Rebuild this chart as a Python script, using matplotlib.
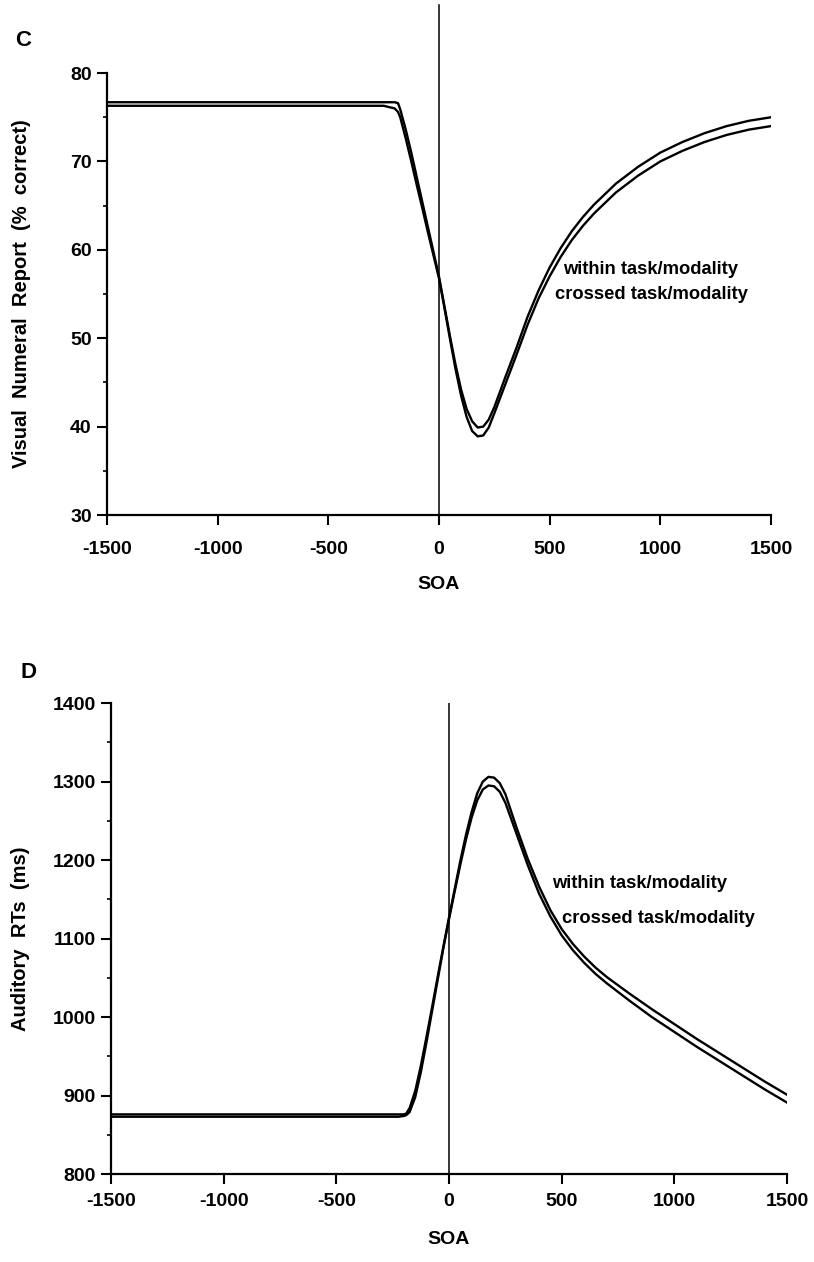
import numpy as np
import matplotlib
matplotlib.use("Agg")
from matplotlib import pyplot as plt
from matplotlib.ticker import MultipleLocator

plt.rcParams['font.family'] = ['Liberation Sans', 'DejaVu Sans']
plt.rcParams['font.weight'] = 'bold'

###############################################################################
# Panel C: visual numeral report (% correct) against SOA
#

soa_c = [-1500, -250, -200, -185, -175, -150, -125, -100, -75, -50, -25, 0,
         25, 50, 75, 100, 125, 150, 175, 200, 225, 250, 300, 350, 400, 450,
         500, 550, 600, 650, 700, 800, 900, 1000, 1100, 1200, 1300, 1400, 1500]

within_c = [76.7, 76.7, 76.7, 76.6, 75.9, 73.6, 71.0, 68.2, 65.4, 62.6, 59.8, 57.0,
            53.6, 50.2, 47.0, 44.2, 42.0, 40.6, 39.9, 40.0, 40.8, 42.2, 45.6, 48.9,
            52.4, 55.4, 58.0, 60.2, 62.1, 63.7, 65.1, 67.5, 69.4, 71.0, 72.2, 73.2,
            74.0, 74.6, 75.0]

crossed_c = [76.3, 76.3, 76.0, 75.6, 75.0, 72.6, 70.0, 67.3, 64.7, 62.0, 59.4, 56.8,
             53.4, 49.9, 46.5, 43.5, 41.1, 39.5, 38.9, 39.0, 39.9, 41.5, 44.8, 48.1,
             51.5, 54.5, 57.0, 59.2, 61.1, 62.7, 64.1, 66.5, 68.4, 70.0, 71.2, 72.2,
             73.0, 73.6, 74.0]

###############################################################################
# Panel D: auditory RTs (ms) against SOA
#

soa_d = [-1500, -250, -225, -200, -190, -175, -150, -125, -100, -75, -50, -25, 0,
         25, 50, 75, 100, 125, 150, 175, 200, 225, 250, 300, 350, 400, 450,
         500, 550, 600, 650, 700, 800, 900, 1000, 1100, 1200, 1300, 1400, 1500]

within_d = [876, 876, 876, 876, 877, 884, 906, 938, 975, 1013, 1052, 1090, 1127,
            1163, 1199, 1232, 1261, 1285, 1300, 1306, 1305, 1298, 1284, 1241, 1201,
            1166, 1136, 1112, 1093, 1077, 1063, 1051, 1030, 1010, 991, 972, 954,
            936, 918, 901]

crossed_d = [873, 873, 873, 874, 875, 879, 898, 930, 968, 1008, 1048, 1088, 1125,
             1160, 1194, 1226, 1254, 1276, 1290, 1295, 1294, 1287, 1273, 1233, 1193,
             1157, 1128, 1104, 1085, 1069, 1055, 1043, 1021, 1000, 981, 962, 944,
             926, 908, 891]

xticks = [-1500, -1000, -500, 0, 500, 1000, 1500]


def style_axis(ax, minor_step, xpad):
    for side in ('top', 'right'):
        ax.spines[side].set_visible(False)
    for side in ('left', 'bottom'):
        ax.spines[side].set_linewidth(1.6)
    ax.set_xlim(-1500, 1500)
    ax.set_xticks(xticks)
    ax.set_xticklabels([str(t) for t in xticks])
    ax.yaxis.set_minor_locator(MultipleLocator(minor_step))
    ax.tick_params(which='major', direction='out', length=7, width=1.5,
                   labelsize=14, pad=4)
    ax.tick_params(which='minor', direction='out', length=3, width=1.2)
    ax.tick_params(axis='x', pad=xpad)
    for lab in ax.get_xticklabels() + ax.get_yticklabels():
        lab.set_fontweight('bold')


fig = plt.figure(figsize=(8.14, 12.62), dpi=100)

# --- panel C
axc = fig.add_axes([0.1314, 0.5919, 0.8157, 0.3502])
axc.plot(soa_c, within_c, color='black', lw=1.7, solid_joinstyle='round')
axc.plot(soa_c, crossed_c, color='black', lw=1.7, solid_joinstyle='round')
axc.axvline(0, ymin=0, ymax=1.154, color='black', lw=1.1, clip_on=False)
axc.set_ylim(30, 80)
axc.set_yticks([30, 40, 50, 60, 70, 80])
style_axis(axc, 5, 12)
axc.set_xlabel('SOA', fontsize=14, fontweight='bold', labelpad=13)
axc.set_ylabel('Visual  Numeral  Report  (%  correct)', fontsize=14.5,
               fontweight='bold', labelpad=28)
axc.text(560, 57.8, 'within task/modality', fontsize=13.2, fontweight='bold',
         ha='left', va='center')
axc.text(524, 55.0, 'crossed task/modality', fontsize=13.2, fontweight='bold',
         ha='left', va='center')
fig.text(0.018, 0.968, 'C', fontsize=16, fontweight='bold', ha='left', va='center')

# --- panel D
axd = fig.add_axes([0.1364, 0.0697, 0.8305, 0.3732])
axd.plot(soa_d, within_d, color='black', lw=1.7, solid_joinstyle='round')
axd.plot(soa_d, crossed_d, color='black', lw=1.7, solid_joinstyle='round')
axd.axvline(0, color='black', lw=1.1)
axd.set_ylim(800, 1400)
axd.set_yticks([800, 900, 1000, 1100, 1200, 1300, 1400])
style_axis(axd, 50, 7)
axd.set_xlabel('SOA', fontsize=14, fontweight='bold', labelpad=15)
axd.set_ylabel('Auditory  RTs  (ms)', fontsize=14.5, fontweight='bold', labelpad=16)
axd.text(458, 1170, 'within task/modality', fontsize=13.2, fontweight='bold',
         ha='left', va='center')
axd.text(500, 1126, 'crossed task/modality', fontsize=13.2, fontweight='bold',
         ha='left', va='center')
fig.text(0.0246, 0.467, 'D', fontsize=16, fontweight='bold', ha='left', va='center')

fig.savefig('out.png', dpi=100, facecolor='white')
